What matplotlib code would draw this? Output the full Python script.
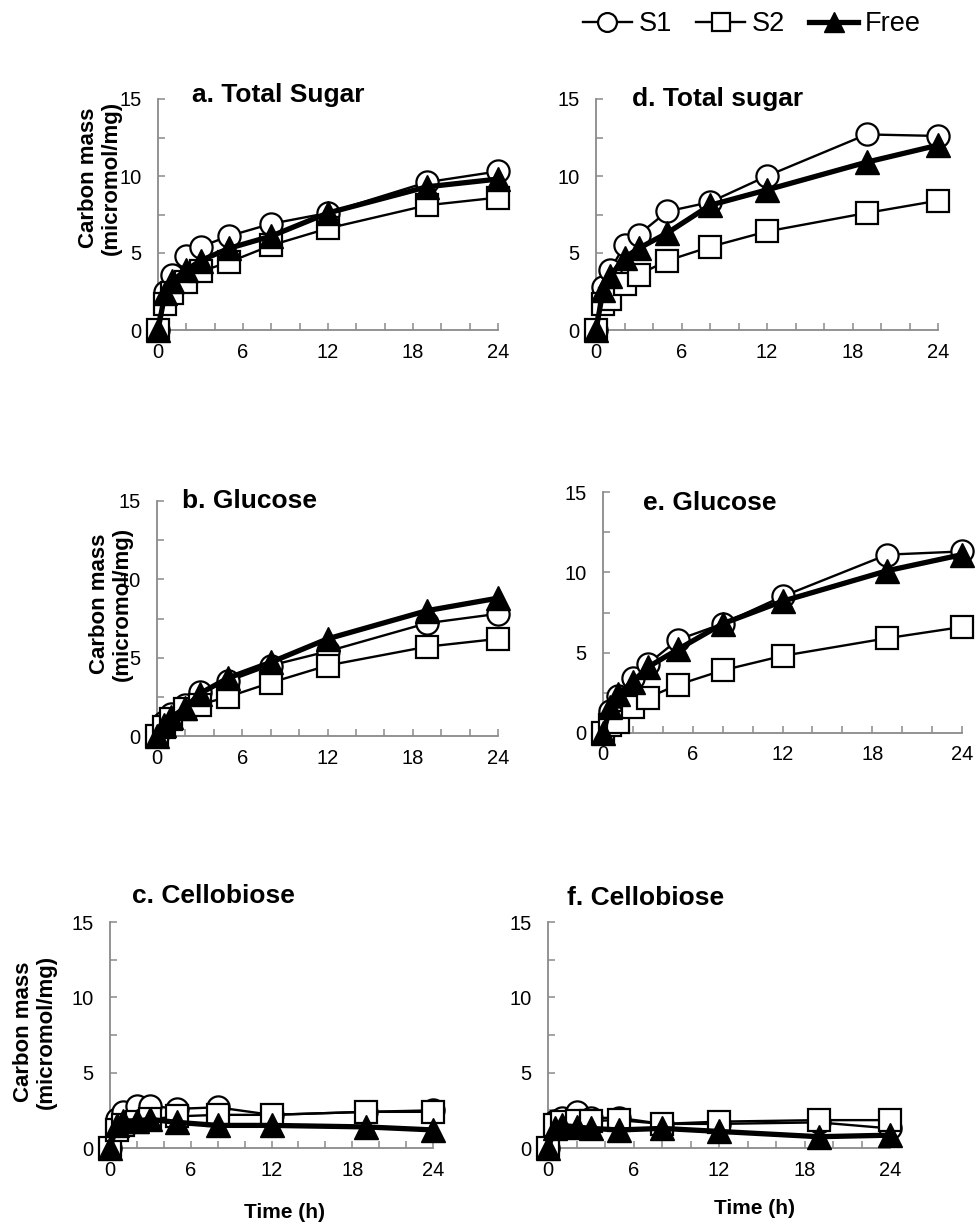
import matplotlib
matplotlib.use("Agg")
import matplotlib.pyplot as plt
from matplotlib.lines import Line2D

plt.rcParams['font.family'] = ['Liberation Sans', 'DejaVu Sans']

# Sampling times (h)
time_h = [0, 0.5, 1, 2, 3, 5, 8, 12, 19, 24]

# a. Total Sugar
a_s1 = [0, 2.5, 3.6, 4.8, 5.4, 6.1, 6.9, 7.6, 9.6, 10.3]
a_s2 = [0, 1.7, 2.4, 3.1, 3.8, 4.4, 5.5, 6.6, 8.1, 8.6]
a_free = [0, 2.4, 3.2, 3.9, 4.5, 5.3, 6.1, 7.6, 9.3, 9.8]

# b. Glucose
b_s1 = [0, 0.9, 1.4, 2.0, 2.8, 3.5, 4.5, 5.4, 7.2, 7.8]
b_s2 = [0, 0.6, 1.1, 1.7, 2.0, 2.5, 3.4, 4.5, 5.7, 6.2]
b_free = [0, 0.7, 1.2, 1.8, 2.7, 3.7, 4.7, 6.2, 8.0, 8.8]

# c. Cellobiose
c_s1 = [0, 1.9, 2.4, 2.8, 2.8, 2.6, 2.7, 2.2, 2.4, 2.5]
c_s2 = [0, 1.2, 1.5, 1.7, 1.9, 2.1, 2.2, 2.2, 2.4, 2.4]
c_free = [0, 1.5, 1.8, 1.8, 1.9, 1.7, 1.5, 1.5, 1.4, 1.2]

# d. Total sugar
d_s1 = [0, 2.8, 3.9, 5.5, 6.2, 7.7, 8.3, 10.0, 12.7, 12.6]
d_s2 = [0, 1.7, 2.0, 3.0, 3.6, 4.5, 5.4, 6.4, 7.6, 8.4]
d_free = [0, 2.6, 3.5, 4.7, 5.3, 6.3, 8.1, 9.1, 10.9, 12.0]

# e. Glucose
e_s1 = [0, 1.4, 2.3, 3.4, 4.3, 5.8, 6.8, 8.5, 11.1, 11.3]
e_s2 = [0, 0.5, 0.7, 1.6, 2.2, 3.0, 3.9, 4.8, 5.9, 6.6]
e_free = [0, 1.6, 2.4, 3.2, 4.1, 5.2, 6.8, 8.2, 10.1, 11.1]

# f. Cellobiose
f_s1 = [0, 1.8, 2.0, 2.4, 2.0, 2.0, 1.6, 1.6, 1.7, 1.3]
f_s2 = [0, 1.5, 1.7, 1.8, 1.8, 1.85, 1.6, 1.75, 1.85, 1.85]
f_free = [0, 1.3, 1.5, 1.4, 1.3, 1.2, 1.3, 1.1, 0.75, 0.85]

panel_titles = ["a. Total Sugar", "b. Glucose", "c. Cellobiose",
                "d. Total sugar", "e. Glucose", "f. Cellobiose"]
x_ticks = [0, 6, 12, 18, 24]
y_ticks = [0, 5, 10, 15]
series_names = ["S1", "S2", "Free"]
y_label = "Carbon mass\n(micromol/mg)"
x_label = "Time (h)"

W, H = 977, 1230
fig = plt.figure(figsize=(W / 100, H / 100), dpi=100)


def fx(px):
    return px / W


def fy(py):
    return 1 - py / H


# axes boxes in pixels: left, right, top (y=15), bottom (y=0)
boxes = [
    (158, 498, 99, 330),
    (157, 498, 501, 736),
    (110, 433, 922, 1148),
    (596, 938, 99, 330),
    (603, 962, 492, 733),
    (548, 890, 922, 1148),
]
# title anchor (left x, baseline y) in pixels
title_pos = [(192, 102), (182, 508), (132, 903),
             (632, 106), (643, 510), (567, 905)]

data = [
    (a_s1, a_s2, a_free), (b_s1, b_s2, b_free), (c_s1, c_s2, c_free),
    (d_s1, d_s2, d_free), (e_s1, e_s2, e_free), (f_s1, f_s2, f_free),
]

spine_col = '#8a8a8a'
styles = [
    dict(marker='o', ms=16, mfc='white', mec='black', mew=1.6, lw=1.7, color='black'),
    dict(marker='s', ms=15.5, mfc='white', mec='black', mew=1.6, lw=1.7, color='black'),
    dict(marker='^', ms=17, mfc='black', mec='black', mew=1.0, lw=3.8, color='black'),
]

for i, (l, r, t, b) in enumerate(boxes):
    ax = fig.add_axes([fx(l), fy(b), fx(r - l), (b - t) / H])
    for ys, st, name in zip(data[i], styles, series_names):
        ax.plot(time_h, ys, label=name, clip_on=False, zorder=3, **st)
    ax.set_xlim(0, 24)
    ax.set_ylim(0, 15)
    ax.set_xticks(x_ticks)
    ax.set_xticks(range(0, 25, 2), minor=True)
    ax.set_yticks(y_ticks)
    ax.set_yticks([2.5, 7.5, 12.5], minor=True)
    for s in ('top', 'right'):
        ax.spines[s].set_visible(False)
    for s in ('left', 'bottom'):
        ax.spines[s].set_color(spine_col)
        ax.spines[s].set_linewidth(1.3)
    ax.tick_params(which='both', direction='in', length=5, width=1.1, color=spine_col,
                   labelsize=14.5, labelcolor='black')
    ax.tick_params(axis='x', which='both', pad=9)
    ax.tick_params(axis='y', which='both', pad=12)
    ax.patch.set_alpha(0)
    tx, ty = title_pos[i]
    fig.text(fx(tx), fy(ty), panel_titles[i], fontsize=19, fontweight='bold',
             ha='left', va='baseline')

# y-axis labels on the left column
for cx, cy in [(100, 178), (111, 604), (35, 1032)]:
    fig.text(fx(cx), fy(cy), y_label, rotation=90, ha='center', va='center',
             multialignment='center', fontsize=16, fontweight='bold', linespacing=1.1)

# x-axis labels on the bottom row
for cx, cy in [(285, 1213), (755, 1208)]:
    fig.text(fx(cx), fy(cy), x_label, ha='center', va='center',
             fontsize=15, fontweight='bold')

leg_handles = [Line2D([], [], **dict(st, ms=st['ms'] * 0.85)) for st in styles]
fig.legend(leg_handles, series_names, loc='center', bbox_to_anchor=(fx(752), fy(24)),
           ncol=3, frameon=False, fontsize=19.5, handlelength=1.8, handletextpad=0.25,
           columnspacing=0.9, borderpad=0, borderaxespad=0)

fig.savefig("out.png", dpi=100)
